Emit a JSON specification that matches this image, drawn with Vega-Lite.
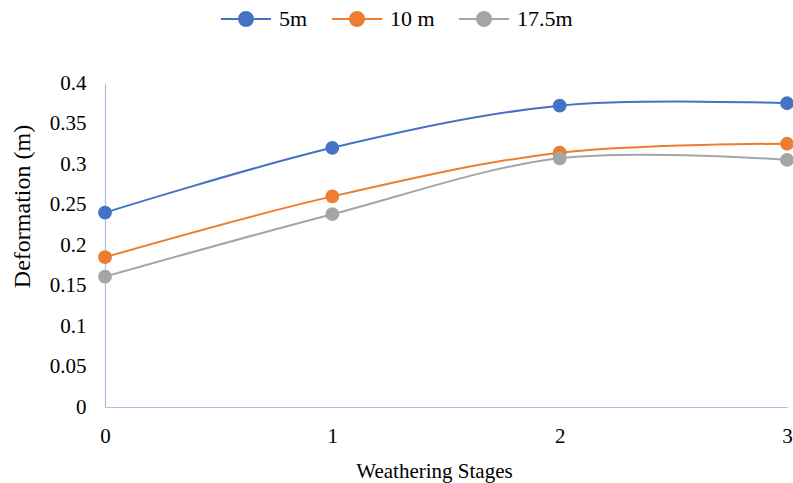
{
  "$schema": "https://vega.github.io/schema/vega-lite/v6.json",
  "width": 682,
  "height": 324,
  "autosize": {"type": "none"},
  "padding": {"left": 105, "top": 83, "right": 6, "bottom": 76},
  "background": "white",
  "config": {
    "view": {"stroke": null},
    "font": "Liberation Serif",
    "axis": {"grid": false, "ticks": false, "domainColor": "#A9BEE0", "domainWidth": 1.2, "labelFont": "Liberation Serif", "labelFontSize": 21, "labelColor": "#000", "titleFont": "Liberation Serif", "titleFontSize": 21, "titleFontWeight": "normal", "titleColor": "#000"},
    "legend": {"labelFont": "Liberation Serif", "labelFontSize": 22, "labelColor": "#000"}
  },
  "data": {"values": [
    {"stage": 0, "value": 0.24, "series": "5m"},
    {"stage": 1, "value": 0.32, "series": "5m"},
    {"stage": 2, "value": 0.372, "series": "5m"},
    {"stage": 3, "value": 0.375, "series": "5m"},
    {"stage": 0, "value": 0.185, "series": "10 m"},
    {"stage": 1, "value": 0.26, "series": "10 m"},
    {"stage": 2, "value": 0.314, "series": "10 m"},
    {"stage": 3, "value": 0.325, "series": "10 m"},
    {"stage": 0, "value": 0.161, "series": "17.5m"},
    {"stage": 1, "value": 0.238, "series": "17.5m"},
    {"stage": 2, "value": 0.307, "series": "17.5m"},
    {"stage": 3, "value": 0.305, "series": "17.5m"}
  ]},
  "encoding": {
    "x": {"field": "stage", "type": "quantitative", "scale": {"domain": [0, 3], "nice": false}, "axis": {"values": [0, 1, 2, 3], "format": "d", "labelFlush": false, "labelPadding": 18, "title": "Weathering Stages", "titlePadding": 14, "titleX": 329}},
    "y": {"field": "value", "type": "quantitative", "scale": {"domain": [0, 0.4], "nice": false}, "axis": {"values": [0, 0.05, 0.1, 0.15, 0.2, 0.25, 0.3, 0.35, 0.4], "labelPadding": 19, "title": "Deformation (m)", "titleFontSize": 24, "titleX": -83, "titleY": 123, "titleBaseline": "middle", "labelExpr": "datum.value == 0 ? '0' : format(datum.value, '.2~f')"}},
    "color": {"field": "series", "type": "nominal", "sort": ["5m", "10 m", "17.5m"], "scale": {"domain": ["5m", "10 m", "17.5m"], "range": ["#4472C4", "#ED7D31", "#A5A5A5"]},
      "legend": {"title": null, "orient": "none", "direction": "horizontal", "legendX": 115, "legendY": -90, "symbolType": "M-1,0H1M-0.28,0A0.28,0.28 0 1,1 0.28,0A0.28,0.28 0 1,1 -0.28,0Z", "symbolSize": 2500, "symbolStrokeWidth": 2, "columnPadding": 20, "labelOffset": 7, "labelFontSize": 22, "labelFont": "Liberation Serif"}}
  },
  "layer": [
    {"mark": {"type": "line", "interpolate": "cardinal", "strokeWidth": 2}},
    {"mark": {"type": "point", "filled": true, "size": 190, "opacity": 1}}
  ]
}
